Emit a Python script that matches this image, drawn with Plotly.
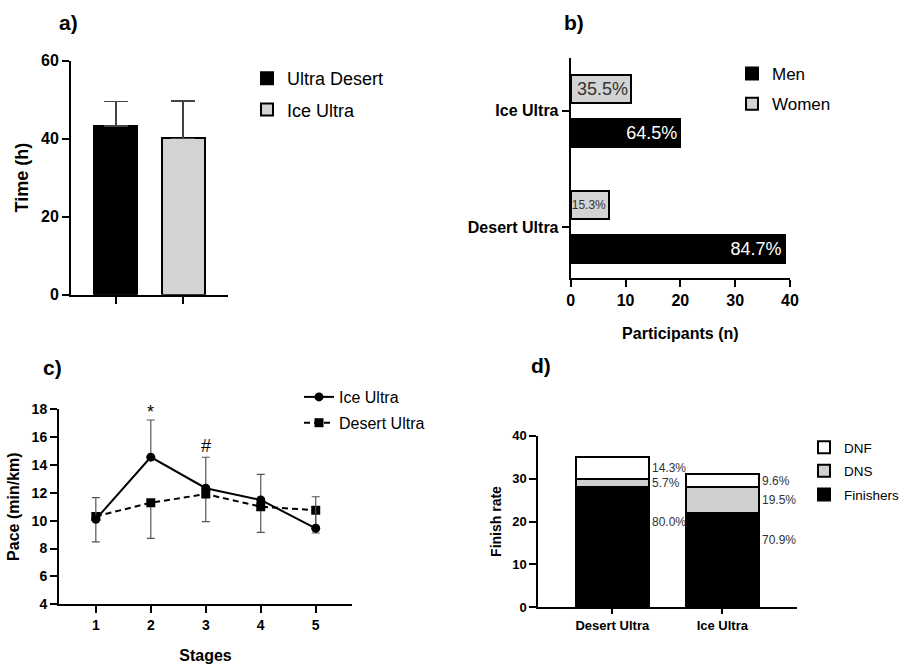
import plotly.graph_objects as go

FONT = "Arial, Liberation Sans, sans-serif"
W, H = 899, 666

# ---------------- data ----------------
# a) finish time
a_groups = ["Ultra Desert", "Ice Ultra"]
a_time = [43.3, 40.1]
a_sd = [6.2, 9.6]

# b) participants by sex
b_races = ["Desert Ultra", "Ice Ultra"]
b_men = [39, 20]
b_women = [7, 11]
b_men_pct = ["84.7%", "64.5%"]
b_women_pct = ["15.3%", "35.5%"]

# c) pace per stage (Ice Ultra SD drawn above, Desert Ultra SD drawn below)
c_stages = [1, 2, 3, 4, 5]
c_ice = [10.1, 14.55, 12.32, 11.48, 9.45]
c_ice_sd = [1.54, 2.66, 2.22, 1.84, 2.26]
c_desert = [10.3, 11.28, 11.9, 11.0, 10.74]
c_desert_sd = [1.83, 2.55, 1.98, 1.84, 1.63]
c_sig_stage = [2, 3]
c_sig_y = [17.8, 15.35]
c_sig_mark = ["*", "#"]

# d) finish rate
d_races = ["Desert Ultra", "Ice Ultra"]
d_finishers = [28, 22]
d_dns = [2, 6]
d_dnf = [5, 3]
d_fin_pct = ["80.0%", "70.9%"]
d_dns_pct = ["5.7%", "19.5%"]
d_dnf_pct = ["14.3%", "9.6%"]


def px(x):
    return x / W


def py(y):
    return 1 - y / H


BOLD = lambda s: dict(family=FONT, size=s, color="black", weight="bold")
REG = lambda s: dict(family=FONT, size=s, color="black")

fig = go.Figure()

# ---------- a ----------
a_fill = ["black", "#d3d3d3"]
for g, t, sd, c in zip(a_groups, a_time, a_sd, a_fill):
    fig.add_trace(go.Bar(
        x=[g], y=[t], width=0.64, name=g, xaxis="x", yaxis="y",
        marker=dict(color=c, line=dict(color="black", width=2)),
        error_y=dict(type="data", symmetric=False, array=[sd], arrayminus=[0],
                     color="#444", thickness=1.5, width=12),
        legend="legend", legendgroup=g,
    ))

# ---------- b ----------
b_idx = list(range(len(b_races)))
fig.add_trace(go.Bar(
    y=[i - 0.19 for i in b_idx], x=b_men, orientation="h", width=0.24,
    name="Men", xaxis="x2", yaxis="y2",
    marker=dict(color="black", line=dict(color="black", width=2)),
    text=b_men_pct, textposition="inside", insidetextanchor="end",
    textfont=dict(family=FONT, size=18, color="white"),
    legend="legend2", legendgroup="Men", constraintext="none",
))
fig.add_trace(go.Bar(
    y=[i + 0.19 for i in b_idx], x=b_women, orientation="h", width=0.24,
    name="Women", xaxis="x2", yaxis="y2",
    marker=dict(color="#d3d3d3", line=dict(color="black", width=2)),
    text=b_women_pct, textposition="inside", insidetextanchor="end",
    textfont=dict(family=FONT, size=[12, 18], color="#333"),
    legend="legend2", legendgroup="Women", constraintext="none",
))

# ---------- c ----------
zeros = [0] * len(c_stages)
fig.add_trace(go.Scatter(
    x=c_stages, y=c_desert, mode="lines+markers", name="Desert Ultra",
    xaxis="x3", yaxis="y3",
    line=dict(color="black", width=2, dash="6px,4px"),
    marker=dict(symbol="square", size=9, color="black"),
    error_y=dict(type="data", symmetric=False, array=zeros, arrayminus=c_desert_sd,
                 color="#555", thickness=1.2, width=4),
    legend="legend3", legendgroup="Desert Ultra", legendrank=2,
))
fig.add_trace(go.Scatter(
    x=c_stages, y=c_ice, mode="lines+markers", name="Ice Ultra",
    xaxis="x3", yaxis="y3",
    line=dict(color="black", width=2),
    marker=dict(symbol="circle", size=9, color="black"),
    error_y=dict(type="data", symmetric=False, array=c_ice_sd, arrayminus=zeros,
                 color="#555", thickness=1.2, width=4),
    legend="legend3", legendgroup="Ice Ultra", legendrank=1,
))

# ---------- d ----------
d_specs = [("Finishers", d_finishers, "black"), ("DNS", d_dns, "#d0d0d0"), ("DNF", d_dnf, "white")]
for k, (name, vals, col) in enumerate(d_specs):
    fig.add_trace(go.Bar(
        x=d_races, y=vals, width=0.66, name=name, xaxis="x4", yaxis="y4",
        marker=dict(color=col, line=dict(color="black", width=2)),
        legend="legend4", legendgroup=name, legendrank=len(d_specs) - k,
    ))

annotations = []
# panel letters
for lab, x, y in [("a)", 68, 23), ("b)", 574, 23), ("c)", 52, 367), ("d)", 541, 365)]:
    annotations.append(dict(text=lab, x=px(x), y=py(y), xref="paper", yref="paper",
                            showarrow=False, font=BOLD(21), xanchor="center", yanchor="middle"))
# significance marks
for s, y, m in zip(c_sig_stage, c_sig_y, c_sig_mark):
    annotations.append(dict(text=m, x=s, y=y, xref="x3", yref="y3", showarrow=False,
                            font=REG(18), yanchor="middle"))
# d labels
for i, r in enumerate(d_races):
    fin, dns, dnf = d_finishers[i], d_dns[i], d_dnf[i]
    ys = [fin * 0.71, fin + dns / 2, fin + dns + dnf / 2]
    for yv, t in zip(ys, [d_fin_pct[i], d_dns_pct[i], d_dnf_pct[i]]):
        annotations.append(dict(text=t, x=r, y=yv, xref="x4", yref="y4", showarrow=False,
                                xanchor="left", yanchor="middle", xshift=38,
                                font=dict(family=FONT, size=12, color="#333")))

axis_common = dict(showline=True, linecolor="black", linewidth=2, ticks="outside",
                   tickcolor="black", tickwidth=2, ticklen=7, showgrid=False, zeroline=False)

fig.update_layout(
    width=W, height=H, margin=dict(l=0, r=0, t=0, b=0, autoexpand=False),
    plot_bgcolor="white", paper_bgcolor="white",
    barmode="stack",
    font=dict(family=FONT, color="black"),
    annotations=annotations,
    xaxis=dict(domain=[px(71), px(228)], anchor="y", type="category",
               categoryorder="array", categoryarray=a_groups, range=[-0.67, 1.67],
               showticklabels=False, **axis_common),
    yaxis=dict(domain=[py(294.7), py(60.7)], anchor="x", range=[0, 60], dtick=20,
               tickfont=BOLD(16), title=dict(text="Time (h)", font=BOLD(18), standoff=8),
               **axis_common),
    xaxis2=dict(domain=[px(570.7), px(790)], anchor="y2", range=[0, 40], dtick=10,
                tickfont=BOLD(16), title=dict(text="Participants (n)", font=BOLD(16), standoff=20),
                **axis_common),
    yaxis2=dict(domain=[py(278), py(58)], anchor="x2", range=[-0.435, 1.452],
                tickvals=b_idx, ticktext=b_races, tickfont=BOLD(16), **axis_common),
    xaxis3=dict(domain=[px(59), px(352)], anchor="y3", range=[0.33, 5.66], tickvals=c_stages,
                tickfont=BOLD(14), title=dict(text="Stages", font=BOLD(16), standoff=18),
                **axis_common),
    yaxis3=dict(domain=[py(604.3), py(409)], anchor="x3", range=[4, 18], dtick=2,
                tickfont=BOLD(14), title=dict(text="Pace (min/km)", font=BOLD(16), standoff=8),
                **axis_common),
    xaxis4=dict(domain=[px(538.3), px(796.7)], anchor="y4", type="category",
                categoryorder="array", categoryarray=d_races, range=[-0.673, 1.676],
                tickfont=BOLD(13), **{**axis_common, "ticklen": 5}),
    yaxis4=dict(domain=[py(607.3), py(435.7)], anchor="x4", range=[0, 40], dtick=10,
                tickfont=BOLD(13), title=dict(text="Finish rate", font=BOLD(14), standoff=7),
                **axis_common),
    legend=dict(x=px(247), y=py(60), xanchor="left", yanchor="top", font=REG(18),
                traceorder="grouped", tracegroupgap=5, bgcolor="rgba(0,0,0,0)"),
    legend2=dict(x=px(732), y=py(56), xanchor="left", yanchor="top", font=REG(17),
                 traceorder="grouped", tracegroupgap=5, bgcolor="rgba(0,0,0,0)"),
    legend3=dict(x=px(299), y=py(380), xanchor="left", yanchor="top", font=REG(16),
                 traceorder="grouped", tracegroupgap=2, bgcolor="rgba(0,0,0,0)"),
    legend4=dict(x=px(804), y=py(432), xanchor="left", yanchor="top", font=REG(13.5),
                 traceorder="grouped", tracegroupgap=3, bgcolor="rgba(0,0,0,0)"),
)

fig.write_html("out.html", config={"displayModeBar": False},
               post_script="document.body.style.margin='0';")
